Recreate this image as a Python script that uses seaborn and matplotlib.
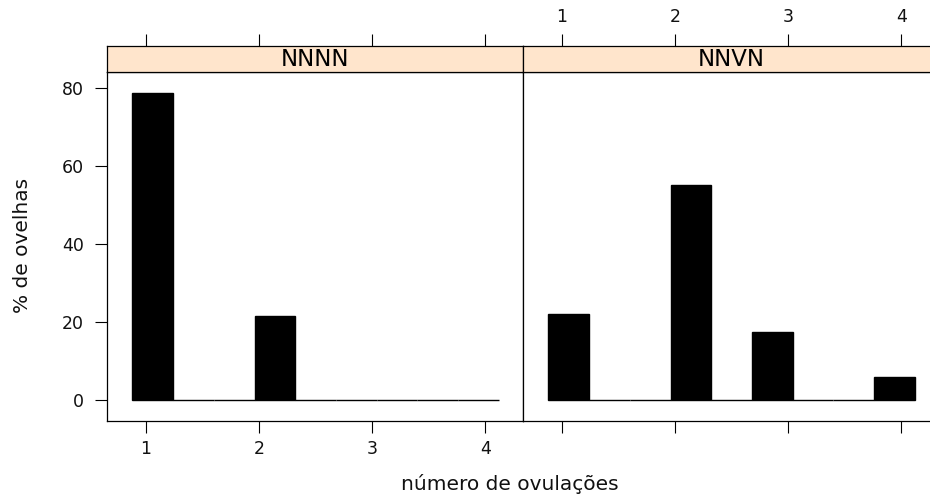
import numpy as np
import pandas as pd
import matplotlib
matplotlib.use('Agg')
import matplotlib.pyplot as plt
import seaborn as sns

# data (% of ewes per number of ovulations)
grupos = ['NNNN', 'NNVN']
ovulacoes = [1, 2, 3, 4]
pct_nnnn = [78.6, 21.4, 0.0, 0.0]
pct_nnvn = [22.0, 55.0, 17.3, 5.8]
y_ticks = [0, 20, 40, 60, 80]

df = pd.DataFrame({
    'grupo': np.repeat(grupos, len(ovulacoes)),
    'ovulacoes': ovulacoes * 2,
    'pct': pct_nnnn + pct_nnvn,
})

sns.set_style('ticks')
plt.rcParams['font.family'] = ['DejaVu Sans']
plt.rcParams['axes.linewidth'] = 0.9
plt.rcParams['axes.edgecolor'] = 'black'

fig = plt.figure(figsize=(9.3, 4.95), dpi=100)

W, H = 930, 495
panel_w = 416 / W
panel_b = (H - 421.3) / H
panel_h = (421.3 - 72) / H
strip_h = 26 / H
lefts = [107 / W, 523 / W]
xlim = (0.655, 4.335)

for i, g in enumerate(grupos):
    ax = fig.add_axes([lefts[i], panel_b, panel_w, panel_h])
    st = fig.add_axes([lefts[i], panel_b + panel_h, panel_w, strip_h])

    sub = df[df['grupo'] == g]
    # lattice-style histogram breaks (range extended by 4%)
    sns.histplot(data=sub, x='ovulacoes', weights='pct', binwidth=0.36,
                 binrange=(0.88, 4.12), ax=ax,
                 color='black', alpha=1, edgecolor='black', linewidth=1)

    ax.set_xlim(*xlim)
    ax.set_ylim(-5.5, 84.1)
    ax.set_xlabel('')
    ax.set_ylabel('')
    ax.set_xticks(ovulacoes)
    ax.tick_params(direction='out', length=8.3, width=0.8, labelsize=12.5,
                   color='black', labelcolor='#111111')
    ax.tick_params(axis='x', pad=5)
    if i == 0:
        ax.set_yticks(y_ticks)
        ax.tick_params(axis='y', pad=8.5)
    else:
        ax.set_yticks([])
        ax.tick_params(axis='x', labelbottom=False)

    # strip with the group name, top ticks above it
    st.set_facecolor('#ffe5cc')
    st.set_xlim(*xlim)
    st.set_ylim(0, 1)
    st.set_yticks([])
    st.xaxis.tick_top()
    st.set_xticks(ovulacoes)
    st.tick_params(axis='x', direction='out', length=8.3, width=0.8,
                   labelsize=12.5, pad=6, color='black', labelcolor='#111111',
                   labeltop=(i == 1))
    st.text(0.5, 0.48, g, transform=st.transAxes, ha='center', va='center',
            fontsize=16.5, color='black')

fig.text(510 / W, 4.5 / H, 'número de ovulações', ha='center', va='baseline',
         fontsize=14.5, color='#111111')
fig.text(22.5 / W, (H - 245) / H, '% de ovelhas', ha='center', va='center',
         rotation=90, fontsize=14.5, color='#111111')

fig.savefig('out.png', dpi=100)
